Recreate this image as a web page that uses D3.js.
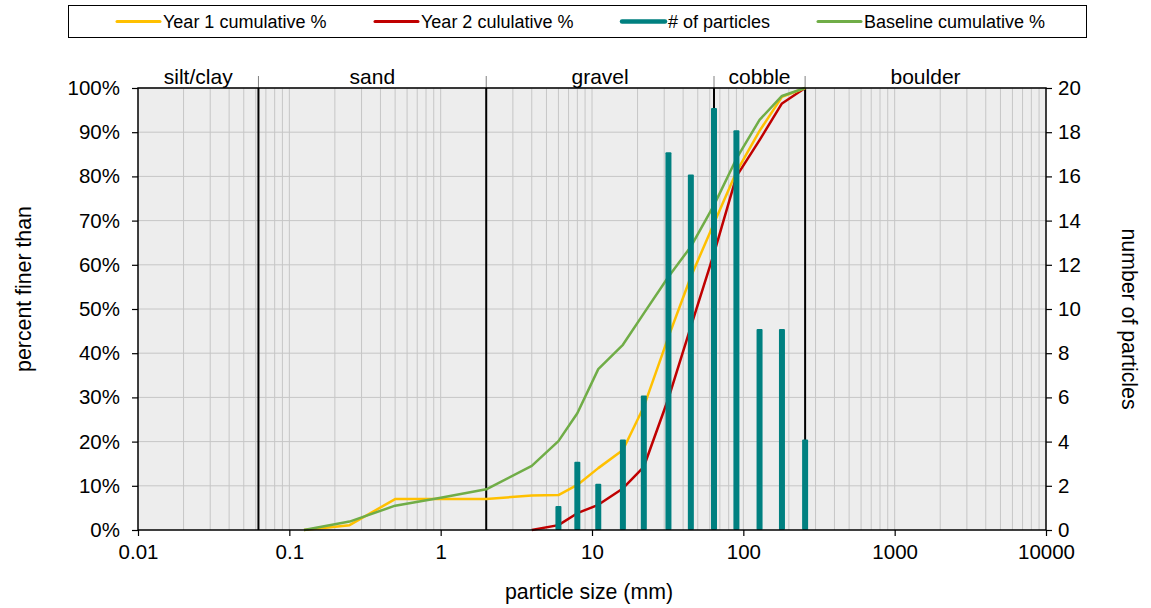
<!DOCTYPE html>
<html>
<head>
<meta charset="utf-8">
<script src="https://cdn.jsdelivr.net/npm/d3@7"></script>
<style>
  body { margin: 0; background: #fff; }
  text { font-family: Arial, "Liberation Sans", sans-serif; fill: #000; }
</style>
</head>
<body>
<div id="chart"></div>
<script>
// sieve sizes (mm) and cumulative percents
var baseSizes = [0.125, 0.25, 0.5, 1, 2, 4, 6, 8, 11, 16, 22, 32, 45, 64, 90, 128, 180, 256];
var baseCum   = [0, 1.9, 5.5, 7.3, 9.2, 14.5, 20.1, 26.4, 36.4, 41.9, 49, 57.3, 64.1, 73.5, 84, 92.8, 98.2, 100];
var year1Sizes = [0.125, 0.25, 0.5, 1, 2, 4, 6, 8, 11, 16, 22, 32, 45, 64, 90, 128, 180, 256];
var year1Cum   = [0, 1.1, 7, 7, 7, 7.8, 7.9, 10.2, 14, 18.1, 27.9, 43.7, 57.3, 69.4, 81, 90.3, 98, 100];
var year2Sizes = [4, 6, 8, 11, 16, 22, 32, 45, 64, 90, 128, 180, 256];
var year2Cum   = [0, 1.1, 3.8, 5.7, 9.4, 14.3, 29.8, 46, 62.6, 80, 88.2, 96.5, 100];
// particle counts
var countSizes = [6, 8, 11, 16, 22, 32, 45, 64, 90, 128, 180, 256];
var counts     = [1, 3, 2, 4, 6, 17, 16, 19, 18, 9, 9, 4];
// size classes
var classBounds = [0.0625, 2, 64, 256];
var classNames  = ["silt/clay", "sand", "gravel", "cobble", "boulder"];
var classEdges  = [0.01, 0.0625, 2, 64, 256, 10000];
var xTicks = [0.01, 0.1, 1, 10, 100, 1000, 10000];
var yTicks = [0, 10, 20, 30, 40, 50, 60, 70, 80, 90, 100];
var y2Ticks = [0, 2, 4, 6, 8, 10, 12, 14, 16, 18, 20];

var W = 1151, H = 608;
var margin = {left: 138, right: 105, top: 88, bottom: 78};
var w = W - margin.left - margin.right, h = H - margin.top - margin.bottom;

var svg = d3.select("#chart").append("svg").attr("width", W).attr("height", H);
var g = svg.append("g").attr("transform", "translate(" + margin.left + "," + margin.top + ")");

var x = d3.scaleLog().domain([0.01, 10000]).range([0, w]);
var y = d3.scaleLinear().domain([0, 100]).range([h, 0]);
var y2 = d3.scaleLinear().domain([0, 20]).range([h, 0]);

// plot background
g.append("rect").attr("width", w).attr("height", h).style("fill", "#ededed");

// minor vertical grid
var minor = [];
for (var e = -2; e < 4; e++) {
  for (var m = 1; m < 10; m++) minor.push(m * Math.pow(10, e));
}
g.append("g").selectAll("line").data(minor.slice(1))
  .enter().append("line")
    .attr("x1", function(d) { return x(d); }).attr("x2", function(d) { return x(d); })
    .attr("y1", 0).attr("y2", h)
    .style("stroke", "#c6c6c6").style("stroke-width", 1);
// horizontal grid
g.append("g").selectAll("line").data(yTicks.slice(1))
  .enter().append("line")
    .attr("x1", 0).attr("x2", w)
    .attr("y1", function(d) { return y(d); }).attr("y2", function(d) { return y(d); })
    .style("stroke", "#c6c6c6").style("stroke-width", 1);

// class boundaries
g.append("g").selectAll("line").data(classBounds)
  .enter().append("line")
    .attr("x1", function(d) { return x(d); }).attr("x2", function(d) { return x(d); })
    .attr("y1", -12).attr("y2", 0)
    .style("stroke", "#808080").style("stroke-width", 1);
g.append("g").selectAll("line").data(classBounds)
  .enter().append("line")
    .attr("x1", function(d) { return x(d); }).attr("x2", function(d) { return x(d); })
    .attr("y1", 0).attr("y2", h)
    .style("stroke", "#000").style("stroke-width", 2);
g.append("g").selectAll("text").data(classNames)
  .enter().append("text")
    .attr("x", function(d, i) { return (x(classEdges[i]) + x(classEdges[i + 1])) / 2; })
    .attr("y", -4)
    .attr("text-anchor", "middle")
    .style("font-size", "21px")
    .text(function(d) { return d; });

// cumulative curves
var line = d3.line().x(function(d) { return x(d[0]); }).y(function(d) { return y(d[1]); });
function drawCurve(sizes, vals, color) {
  g.append("path")
    .datum(d3.zip(sizes, vals))
    .attr("d", line)
    .style("fill", "none").style("stroke", color).style("stroke-width", 2.5)
    .style("stroke-linejoin", "round");
}
drawCurve(year2Sizes, year2Cum, "#c00000");
drawCurve(year1Sizes, year1Cum, "#ffc000");
drawCurve(baseSizes, baseCum, "#70ad47");

// particle bars
g.append("g").selectAll("rect").data(d3.zip(countSizes, counts))
  .enter().append("rect")
    .attr("x", function(d) { return x(d[0]) - 3; })
    .attr("width", 6)
    .attr("y", function(d) { return y2(d[1]) - 2; })
    .attr("height", function(d) { return h - y2(d[1]) + 2; })
    .attr("rx", 1)
    .style("fill", "#008080");

// frame
g.append("rect").attr("width", w).attr("height", h)
  .style("fill", "none").style("stroke", "#000").style("stroke-width", 1.5);

// axes
var xAxis = g.append("g").attr("transform", "translate(0," + h + ")")
  .call(d3.axisBottom(x).tickValues(xTicks).tickFormat(function(d) { return String(d); }).tickSize(6).tickPadding(8));
var yAxis = g.append("g")
  .call(d3.axisLeft(y).tickValues(yTicks).tickFormat(function(d) { return d + "%"; }).tickSize(6).tickPadding(12));
var y2Axis = g.append("g").attr("transform", "translate(" + w + ",0)")
  .call(d3.axisRight(y2).tickValues(y2Ticks).tickSize(6).tickPadding(6));
[xAxis, yAxis, y2Axis].forEach(function(a) {
  a.select(".domain").remove();
  a.selectAll(".tick line").style("stroke", "#000").style("stroke-width", 1.2);
  a.selectAll(".tick text").style("font-size", "20.5px").style("font-family", "Arial, 'Liberation Sans', sans-serif").style("fill", "#000");
});

// axis titles
svg.append("text").attr("x", 589).attr("y", 599)
  .attr("text-anchor", "middle").style("font-size", "21.3px").text("particle size (mm)");
svg.append("text").attr("transform", "translate(31,289) rotate(-90)")
  .attr("text-anchor", "middle").style("font-size", "21.3px").text("percent finer than");
svg.append("text").attr("transform", "translate(1122,319) rotate(90)")
  .attr("text-anchor", "middle").style("font-size", "21.3px").text("number of particles");

// legend
var legendItems = [
  {name: "Year 1 cumulative %", color: "#ffc000", x: 117, wd: 3},
  {name: "Year 2 culu" + "lative %", color: "#c00000", x: 375, wd: 3},
  {name: "# of particles", color: "#008080", x: 622, wd: 4.5},
  {name: "Baseline cumulative %", color: "#70ad47", x: 818, wd: 3}
];
svg.append("rect").attr("x", 68.5).attr("y", 5.5).attr("width", 1018).attr("height", 32)
  .style("fill", "#fff").style("stroke", "#000").style("stroke-width", 1);
var li = svg.append("g").selectAll("g").data(legendItems).enter().append("g");
li.append("line")
  .attr("x1", function(d) { return d.x; }).attr("x2", function(d) { return d.x + 43; })
  .attr("y1", 21.5).attr("y2", 21.5)
  .style("stroke", function(d) { return d.color; })
  .style("stroke-width", function(d) { return d.wd; })
  .style("stroke-linecap", "round");
li.append("text")
  .attr("x", function(d) { return d.x + 46; }).attr("y", 28)
  .style("font-size", "18px")
  .text(function(d) { return d.name; });
</script>
</body>
</html>
